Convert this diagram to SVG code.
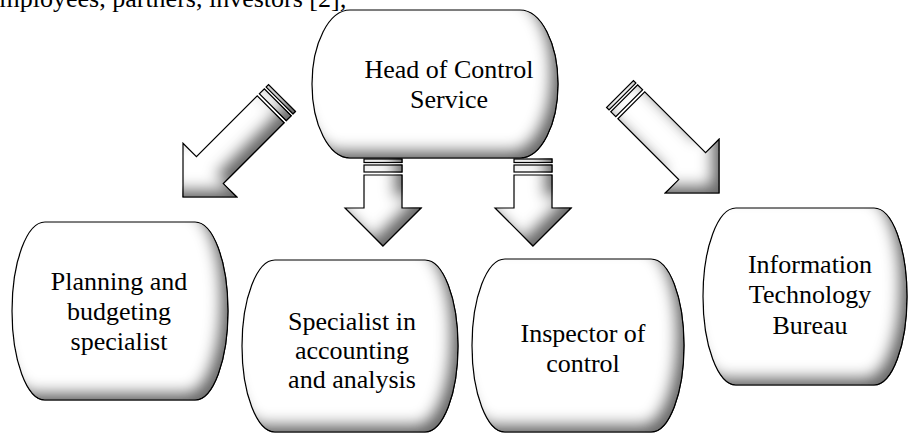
<svg xmlns="http://www.w3.org/2000/svg" width="909" height="434" viewBox="0 0 909 434">
<style>
.shape{fill:#fff;stroke:#000;stroke-width:1.2}
.lbl{font-family:'Liberation Serif','DejaVu Serif',serif;font-size:26px;fill:#000;text-anchor:middle}
.top{font-family:'Liberation Serif','DejaVu Serif',serif;font-size:26px;fill:#000}
</style>
<defs>
<filter id="bevel" x="-15%" y="-15%" width="130%" height="130%">
  <feGaussianBlur in="SourceAlpha" stdDeviation="7" result="blur"/>
  <feOffset in="blur" dx="-10" dy="-10" result="off"/>
  <feComposite in="SourceAlpha" in2="off" operator="arithmetic" k1="0" k2="1" k3="-1" k4="0" result="inner"/>
  <feFlood flood-color="#000" flood-opacity="0.85"/>
  <feComposite in2="inner" operator="in" result="shadow"/>
  <feMerge><feMergeNode in="SourceGraphic"/><feMergeNode in="shadow"/></feMerge>
</filter>
</defs>
<rect width="909" height="434" fill="#fff"/>
<text class="top" x="-12" y="7" font-family="Liberation Serif, serif">employees, partners, investors [2];</text>
<g id="connectors">
  <g filter="url(#bevel)"><g transform="translate(383,246)">
    <path class="shape" d="M0,0 L-38,-38 L-19,-38 L-19,-71 L19,-71 L19,-38 L38,-38 Z"/>
    <rect class="shape" x="-19" y="-81" width="38" height="7"/>
    <rect class="shape" x="-19" y="-87" width="38" height="3.5"/>
  </g></g>
  <g filter="url(#bevel)"><g transform="translate(533,246)">
    <path class="shape" d="M0,0 L-38,-38 L-19,-38 L-19,-71 L19,-71 L19,-38 L38,-38 Z"/>
    <rect class="shape" x="-19" y="-81" width="38" height="7"/>
    <rect class="shape" x="-19" y="-87" width="38" height="3.5"/>
  </g></g>
  <g filter="url(#bevel)"><g transform="translate(183,197) rotate(45)">
    <path class="shape" d="M0,0 L-38,-38 L-19,-38 L-19,-124 L19,-124 L19,-38 L38,-38 Z"/>
    <rect class="shape" x="-19" y="-134" width="38" height="7"/>
    <rect class="shape" x="-19" y="-140" width="38" height="3.5"/>
  </g></g>
  <g filter="url(#bevel)"><g transform="translate(719,193) rotate(-45)">
    <path class="shape" d="M0,0 L-38,-38 L-19,-38 L-19,-124 L19,-124 L19,-38 L38,-38 Z"/>
    <rect class="shape" x="-19" y="-134" width="38" height="7"/>
    <rect class="shape" x="-19" y="-140" width="38" height="3.5"/>
  </g></g>
</g>
<g id="head">
  <path class="shape" filter="url(#bevel)" d="M350,10 H520 A38,74 0 0 1 520,158 H350 A38,74 0 0 1 350,10 Z"/>
  <text class="lbl" x="449" y="78">Head of Control</text>
  <text class="lbl" x="449" y="108">Service</text>
</g>
<g id="planning">
  <path class="shape" filter="url(#bevel)" d="M45,222 H195 A33,89 0 0 1 195,400 H45 A33,89 0 0 1 45,222 Z"/>
  <text class="lbl" x="119" y="290">Planning and</text>
  <text class="lbl" x="119" y="320">budgeting</text>
  <text class="lbl" x="119" y="350">specialist</text>
</g>
<g id="specialist">
  <path class="shape" filter="url(#bevel)" d="M275,260 H425 A33,86 0 0 1 425,432 H275 A33,86 0 0 1 275,260 Z"/>
  <text class="lbl" x="352" y="330">Specialist in</text>
  <text class="lbl" x="352" y="359">accounting</text>
  <text class="lbl" x="352" y="388">and analysis</text>
</g>
<g id="inspector">
  <path class="shape" filter="url(#bevel)" d="M505,259 H651 A33,86.5 0 0 1 651,432 H505 A33,86.5 0 0 1 505,259 Z"/>
  <text class="lbl" x="583" y="342">Inspector of</text>
  <text class="lbl" x="583" y="372">control</text>
</g>
<g id="it">
  <path class="shape" filter="url(#bevel)" d="M736,208 H874 A33,88.5 0 0 1 874,385 H736 A33,88.5 0 0 1 736,208 Z"/>
  <text class="lbl" x="810" y="273">Information</text>
  <text class="lbl" x="810" y="303">Technology</text>
  <text class="lbl" x="810" y="334">Bureau</text>
</g>
</svg>
